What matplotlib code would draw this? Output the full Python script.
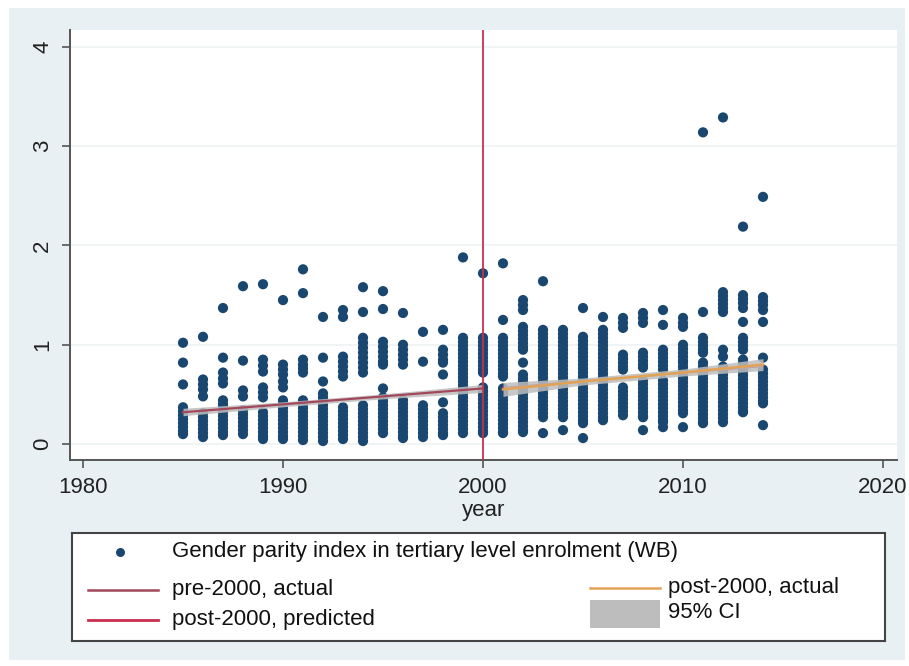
import matplotlib
matplotlib.use("Agg")
import matplotlib.pyplot as plt
from matplotlib.patches import Rectangle
from matplotlib.lines import Line2D

plt.rcParams['font.family'] = ['Liberation Sans', 'DejaVu Sans']

# ---------------- data ----------------
years = list(range(1985, 2015))
gpi_by_year = [
    [1.02, 0.82, 0.60, 0.37, 0.33, 0.29, 0.25, 0.21, 0.17, 0.13, 0.10],                      # 1985
    [1.08, 0.65, 0.60, 0.55, 0.48, 0.31, 0.27, 0.23, 0.19, 0.15, 0.11, 0.07],                # 1986
    [1.37, 0.87, 0.72, 0.66, 0.61, 0.44, 0.40, 0.36, 0.32, 0.28, 0.24, 0.20, 0.16, 0.12, 0.09],  # 1987
    [1.59, 0.84, 0.54, 0.48, 0.34, 0.30, 0.26, 0.22, 0.18, 0.14, 0.10],                      # 1988
    [1.61, 0.85, 0.79, 0.73, 0.57, 0.52, 0.47, 0.32, 0.28, 0.24, 0.20, 0.16, 0.12, 0.08, 0.05],  # 1989
    [1.45, 0.80, 0.75, 0.70, 0.63, 0.57, 0.44, 0.40, 0.36, 0.32, 0.28, 0.24, 0.20, 0.16, 0.12, 0.08, 0.05],  # 1990
    [1.76, 1.52, 0.85, 0.80, 0.76, 0.72, 0.44, 0.40, 0.36, 0.32, 0.28, 0.24, 0.20, 0.16, 0.12, 0.08, 0.04],  # 1991
    [1.28, 0.87, 0.63, 0.51, 0.47, 0.43, 0.39, 0.35, 0.31, 0.27, 0.23, 0.19, 0.15, 0.11, 0.07, 0.03],  # 1992
    [1.35, 1.28, 0.88, 0.83, 0.78, 0.73, 0.68, 0.37, 0.33, 0.29, 0.25, 0.21, 0.17, 0.13, 0.09, 0.05],  # 1993
    [1.58, 1.33, 1.07, 1.02, 0.97, 0.92, 0.87, 0.82, 0.77, 0.72, 0.39, 0.35, 0.31, 0.27, 0.23, 0.19, 0.15, 0.11, 0.07, 0.03],  # 1994
    [1.54, 1.36, 1.03, 0.98, 0.93, 0.88, 0.83, 0.80, 0.56, 0.47, 0.43, 0.39, 0.35, 0.31, 0.27, 0.23, 0.19, 0.15, 0.11],  # 1995
    [1.32, 1.00, 0.95, 0.90, 0.85, 0.80, 0.44, 0.40, 0.36, 0.32, 0.28, 0.24, 0.20, 0.16, 0.12, 0.08, 0.06],  # 1996
    [1.13, 0.83, 0.39, 0.35, 0.31, 0.27, 0.23, 0.19, 0.15, 0.11, 0.07],                      # 1997
    [1.15, 0.95, 0.90, 0.85, 0.82, 0.70, 0.42, 0.31, 0.27, 0.23, 0.19, 0.15, 0.11, 0.09],    # 1998
    [1.88, 1.07, 1.03, 0.99, 0.95, 0.91, 0.87, 0.83, 0.79, 0.75, 0.71, 0.67, 0.63, 0.59, 0.55, 0.51, 0.47, 0.43, 0.39, 0.35, 0.31, 0.27, 0.23, 0.19, 0.15, 0.11],  # 1999
    [1.72, 1.07, 1.03, 0.99, 0.95, 0.91, 0.87, 0.83, 0.79, 0.75, 0.72, 0.57, 0.53, 0.49, 0.45, 0.41, 0.37, 0.33, 0.29, 0.25, 0.21, 0.17, 0.13, 0.11],  # 2000
    [1.82, 1.25, 1.07, 1.03, 0.99, 0.95, 0.91, 0.87, 0.83, 0.79, 0.75, 0.71, 0.68, 0.56, 0.52, 0.48, 0.44, 0.40, 0.36, 0.32, 0.28, 0.24, 0.20, 0.16, 0.12, 0.11],  # 2001
    [1.45, 1.40, 1.35, 1.18, 1.14, 1.10, 1.06, 1.02, 0.98, 0.95, 0.82, 0.70, 0.66, 0.62, 0.58, 0.54, 0.50, 0.46, 0.42, 0.38, 0.34, 0.30, 0.26, 0.22, 0.18, 0.14, 0.12],  # 2002
    [1.64, 1.15, 1.11, 1.07, 1.03, 0.99, 0.95, 0.91, 0.87, 0.83, 0.79, 0.75, 0.71, 0.67, 0.63, 0.59, 0.55, 0.51, 0.47, 0.43, 0.39, 0.35, 0.31, 0.27, 0.11],  # 2003
    [1.15, 1.11, 1.07, 1.03, 0.99, 0.95, 0.91, 0.87, 0.83, 0.79, 0.75, 0.71, 0.67, 0.63, 0.59, 0.55, 0.51, 0.47, 0.43, 0.39, 0.35, 0.31, 0.27, 0.14],  # 2004
    [1.37, 1.08, 1.04, 1.00, 0.96, 0.92, 0.88, 0.84, 0.80, 0.76, 0.72, 0.68, 0.64, 0.60, 0.56, 0.52, 0.48, 0.44, 0.40, 0.36, 0.32, 0.28, 0.24, 0.21, 0.06],  # 2005
    [1.28, 1.15, 1.11, 1.07, 1.03, 0.99, 0.95, 0.91, 0.87, 0.83, 0.79, 0.75, 0.71, 0.67, 0.63, 0.59, 0.55, 0.51, 0.47, 0.43, 0.39, 0.35, 0.31, 0.27, 0.24],  # 2006
    [1.27, 1.22, 1.17, 0.90, 0.86, 0.82, 0.78, 0.75, 0.57, 0.53, 0.49, 0.45, 0.41, 0.37, 0.33, 0.29],  # 2007
    [1.32, 1.27, 1.22, 0.92, 0.88, 0.84, 0.80, 0.77, 0.64, 0.60, 0.56, 0.52, 0.48, 0.44, 0.40, 0.36, 0.32, 0.28, 0.27, 0.14],  # 2008
    [1.35, 1.20, 0.95, 0.91, 0.87, 0.83, 0.79, 0.75, 0.64, 0.60, 0.56, 0.52, 0.48, 0.44, 0.40, 0.36, 0.32, 0.28, 0.24, 0.22, 0.17],  # 2009
    [1.27, 1.22, 1.18, 1.00, 0.96, 0.92, 0.88, 0.84, 0.82, 0.78, 0.74, 0.70, 0.66, 0.62, 0.58, 0.54, 0.50, 0.46, 0.42, 0.38, 0.34, 0.31, 0.17],  # 2010
    [3.14, 1.33, 1.07, 1.03, 0.99, 0.95, 0.92, 0.82, 0.78, 0.74, 0.70, 0.66, 0.62, 0.58, 0.54, 0.50, 0.46, 0.42, 0.38, 0.34, 0.30, 0.26, 0.22, 0.21],  # 2011
    [3.29, 1.53, 1.49, 1.45, 1.41, 1.37, 1.33, 0.95, 0.88, 0.78, 0.74, 0.70, 0.66, 0.62, 0.58, 0.54, 0.50, 0.46, 0.42, 0.38, 0.34, 0.30, 0.26, 0.22],  # 2012
    [2.19, 1.50, 1.46, 1.42, 1.37, 1.23, 1.07, 1.03, 0.99, 0.95, 0.85, 0.81, 0.77, 0.73, 0.69, 0.65, 0.61, 0.57, 0.53, 0.49, 0.45, 0.41, 0.37, 0.33, 0.32],  # 2013
    [2.49, 1.48, 1.44, 1.40, 1.35, 1.23, 0.87, 0.75, 0.71, 0.67, 0.63, 0.59, 0.55, 0.51, 0.47, 0.43, 0.41, 0.19],  # 2014
]

pre_years = [1985, 1990, 1995, 2000]
pre_fit = [0.32, 0.40, 0.48, 0.56]
pre_lo = [0.285, 0.375, 0.455, 0.52]
pre_hi = [0.36, 0.425, 0.505, 0.60]

post_years = [2001, 2005, 2010, 2014]
post_fit = [0.55, 0.63, 0.72, 0.80]
post_lo = [0.48, 0.595, 0.685, 0.74]
post_hi = [0.62, 0.665, 0.755, 0.86]

pred_years = [2001, 2014]
pred_fit = [0.57, 0.78]

cutoff_year = 2000
x_ticks = [1980, 1990, 2000, 2010, 2020]
y_ticks = [0, 1, 2, 3, 4]

series_label = "Gender parity index in tertiary level enrolment (WB)"
legend_labels = ["pre-2000, actual", "post-2000, predicted", "post-2000, actual", "95% CI"]

# ---------------- style ----------------
W, H = 909, 666
NAVY = "#1a476f"
PRE_C = "#a3485c"
PRED_C = "#c8304e"
POST_C = "#e2a255"
CI_C = "#bdbdbd"
BG = "#e9f0f3"
AX_C = "#555555"

fig = plt.figure(figsize=(W / 100, H / 100), dpi=100, facecolor="white")
fig.add_artist(Rectangle((9 / W, 1 - 660 / H), (905 - 9) / W, (660 - 8) / H,
                         transform=fig.transFigure, facecolor=BG, edgecolor="none", zorder=0))

ax = fig.add_axes([70 / W, 1 - 460 / H, (897 - 70) / W, (460 - 30) / H])
ax.set_facecolor("white")
ax.set_xlim(1979.35, 2020.7)
ax.set_ylim(-0.161, 4.171)

for yt in y_ticks:
    ax.axhline(yt, color="#eef2f3", lw=1.2, zorder=0)

xs, ys = [], []
for yr, vals in zip(years, gpi_by_year):
    xs.extend([yr] * len(vals))
    ys.extend(vals)
ax.scatter(xs, ys, s=54, color=NAVY, edgecolors="none", zorder=2)

ax.plot(pred_years, pred_fit, color=PRED_C, lw=1.0, zorder=2.5)
ax.fill_between(pre_years, pre_lo, pre_hi, color=CI_C, alpha=0.85, lw=0, zorder=3)
ax.fill_between(post_years, post_lo, post_hi, color=CI_C, alpha=0.85, lw=0, zorder=3)
ax.plot(pre_years, pre_fit, color=PRE_C, lw=1.6, zorder=4)
ax.plot(post_years, post_fit, color=POST_C, lw=1.8, zorder=5)
ax.axvline(cutoff_year, color=PRED_C, lw=1.3, zorder=6)

ax.set_xticks(x_ticks)
ax.set_yticks(y_ticks)
ax.set_xticklabels([str(t) for t in x_ticks], fontsize=16, color="#222222")
ax.set_yticklabels([str(t) for t in y_ticks], fontsize=16, color="#222222",
                   rotation=90, va="center")
ax.tick_params(axis="both", direction="out", length=6, width=1.2, color=AX_C, pad=6)
for side in ["top", "right"]:
    ax.spines[side].set_visible(False)
for side in ["left", "bottom"]:
    ax.spines[side].set_color(AX_C)
    ax.spines[side].set_linewidth(1.4)
ax.set_xlabel("year", fontsize=16, color="#222222", labelpad=2)

# ---------------- legend ----------------
lx0, ly0, lx1, ly1 = 72, 533, 885, 641
lax = fig.add_axes([lx0 / W, 1 - ly1 / H, (lx1 - lx0) / W, (ly1 - ly0) / H])
lax.set_xlim(0, lx1 - lx0)
lax.set_ylim(ly1 - ly0, 0)
lax.set_facecolor("white")
for sp in lax.spines.values():
    sp.set_color("#444444")
    sp.set_linewidth(1.5)
lax.set_xticks([])
lax.set_yticks([])

fs = 16
lax.plot([48], [19], "o", color=NAVY, markersize=6.5, markeredgewidth=0)
lax.text(100, 19, series_label, fontsize=fs, va="center", ha="left", color="#111111")
lax.add_line(Line2D([16, 86], [57, 57], color=PRE_C, lw=1.8))
lax.text(100, 57, legend_labels[0], fontsize=fs, va="center", ha="left", color="#111111")
lax.add_line(Line2D([16, 86], [87, 87], color=PRED_C, lw=2.0))
lax.text(100, 87, legend_labels[1], fontsize=fs, va="center", ha="left", color="#111111")
lax.add_line(Line2D([518, 588], [55, 55], color=POST_C, lw=1.8))
lax.text(596, 55, legend_labels[2], fontsize=fs, va="center", ha="left", color="#111111")
lax.add_patch(Rectangle((518, 67), 70, 28, facecolor=CI_C, edgecolor="none"))
lax.text(596, 80, legend_labels[3], fontsize=fs, va="center", ha="left", color="#111111")

fig.savefig("out.png", dpi=100, facecolor="white")
